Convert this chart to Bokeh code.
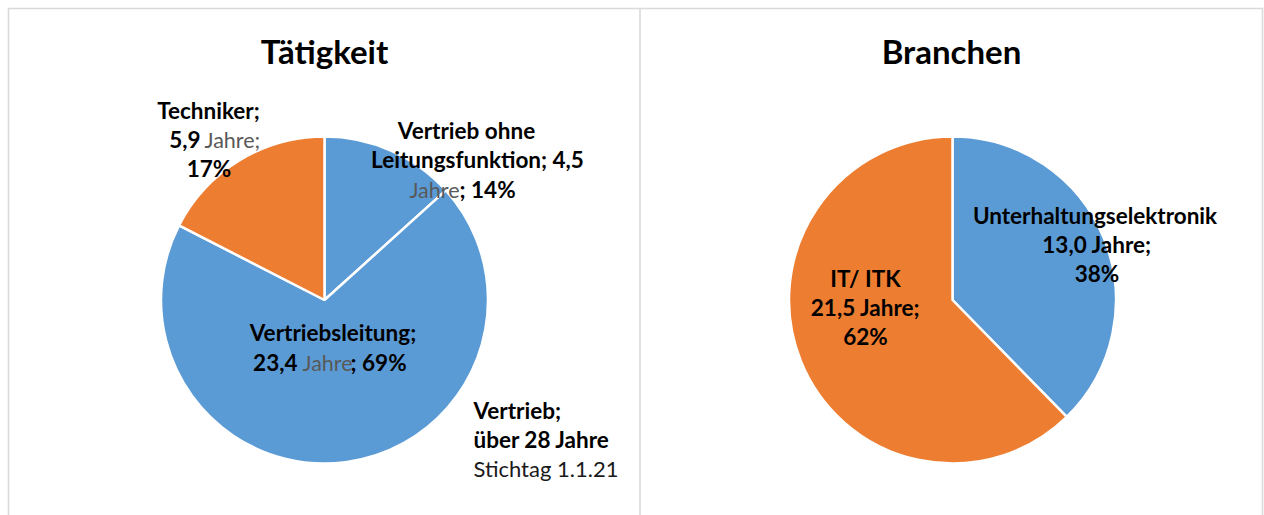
import math
from bokeh.plotting import figure
from bokeh.models import Range1d, ColumnDataSource
from bokeh.core.properties import value
from bokeh.embed import file_html
from bokeh.resources import INLINE

# ---- data ----
taetigkeit_labels = ["Vertrieb ohne Leitungsfunktion", "Vertriebsleitung", "Techniker"]
taetigkeit_jahre = [4.5, 23.4, 5.9]
taetigkeit_pct = ["14%", "69%", "17%"]
taetigkeit_colors = ["#5B9BD5", "#5B9BD5", "#ED7D31"]

branchen_labels = ["Unterhaltungselektronik", "IT/ ITK"]
branchen_jahre = [13.0, 21.5]
branchen_pct = ["38%", "62%"]
branchen_colors = ["#5B9BD5", "#ED7D31"]

titles = ["Tätigkeit", "Branchen"]
note = "Stichtag 1.1.21"

# ---- layout (page pixels) ----
W, H = 1264, 515
FONT = "Lato"
LBL = "22.5px"
REG = "21.5px"
TTL = "33px"
BLACK = "#000000"
GREY = "#595959"


def Y(py):
    return H - py


def X(px):
    return px


p = figure(width=W, height=H, output_backend="svg", toolbar_location=None,
           x_range=Range1d(0, W), y_range=Range1d(0, H), min_border=0)
p.axis.visible = False
p.grid.visible = False
p.outline_line_color = None
p.background_fill_color = "white"
p.border_fill_color = "white"

# frame lines
for xs, ys in [([X(8), X(8)], [Y(7.5), Y(520)]),
               ([X(7.5), X(1262.5)], [Y(8), Y(8)]),
               ([X(639.5), X(639.5)], [Y(7.5), Y(520)]),
               ([X(1262), X(1262)], [Y(7.5), Y(520)])]:
    p.line(xs, ys, line_color="#D9D9D9", line_width=1.6)


def pie(vals, colors, cx, cy, r):
    tot = sum(vals)
    starts, ends = [], []
    cum = 0.0
    for v in vals:
        starts.append(math.pi / 2 - 2 * math.pi * cum / tot)
        cum += v
        ends.append(math.pi / 2 - 2 * math.pi * cum / tot)
    src = ColumnDataSource(dict(x=[cx] * len(vals), y=[cy] * len(vals),
                                s=starts, e=ends, c=colors))
    p.wedge(x="x", y="y", radius=r, start_angle="s", end_angle="e",
            direction="clock", fill_color="c", line_color="white",
            line_width=2.5, source=src)


pie(taetigkeit_jahre, taetigkeit_colors, X(324), Y(299.5), 163.5)
pie(branchen_jahre, branchen_colors, X(952), Y(299.5), 163.5)


def txt(s, px, py, align="center", bold=True, color=BLACK, size=LBL, dy=8):
    p.text(x=[X(px)], y=[Y(py - dy)], text=[s], text_align=align,
           text_baseline="alphabetic", text_font=value(FONT),
           text_font_style="bold" if bold else "normal",
           text_font_size=size, text_color=color)


def fmt(v):
    return ("%.1f" % v).replace(".", ",")


# titles
txt(titles[0], 324, 63, size=TTL, dy=13)
txt(titles[1], 951, 63, size=TTL, dy=13)

# Tätigkeit labels
# Techniker
txt(taetigkeit_labels[2] + ";", 208, 118)
txt(fmt(taetigkeit_jahre[2]), 200, 147, align="right")
txt("Jahre;", 204, 147, align="left", bold=False, color=GREY, size=REG)
txt(taetigkeit_pct[2], 208.5, 176)

# Vertrieb ohne Leitungsfunktion
w = taetigkeit_labels[0].split(" ")
txt(w[0] + " " + w[1], 466, 138)
txt(w[2] + "; " + fmt(taetigkeit_jahre[0]), 477, 167)
txt("Jahre", 459, 197, align="right", bold=False, color=GREY, size=REG)
txt("; " + taetigkeit_pct[0], 459, 197, align="left")

# Vertriebsleitung
txt(taetigkeit_labels[1] + ";", 332.5, 340)
txt(fmt(taetigkeit_jahre[1]), 297, 370, align="right")
txt("Jahre", 302, 370, align="left", bold=False, color=GREY, size=REG)
txt("; " + taetigkeit_pct[1], 350, 370, align="left")

# note
txt("Vertrieb;", 473, 418, align="left")
txt("über 28 Jahre", 473, 447, align="left")
txt(note, 473, 476, align="left", bold=False, color="#1A1A1A", size="22px")

# Branchen labels
txt(branchen_labels[0], 1094.5, 223)
txt(fmt(branchen_jahre[0]) + " Jahre;", 1096.5, 252)
txt(branchen_pct[0], 1096.5, 281)

txt(branchen_labels[1], 865, 286)
txt(fmt(branchen_jahre[1]) + " Jahre;", 865, 315)
txt(branchen_pct[1], 865, 344)

open("out.html", "w").write(file_html(p, INLINE))
